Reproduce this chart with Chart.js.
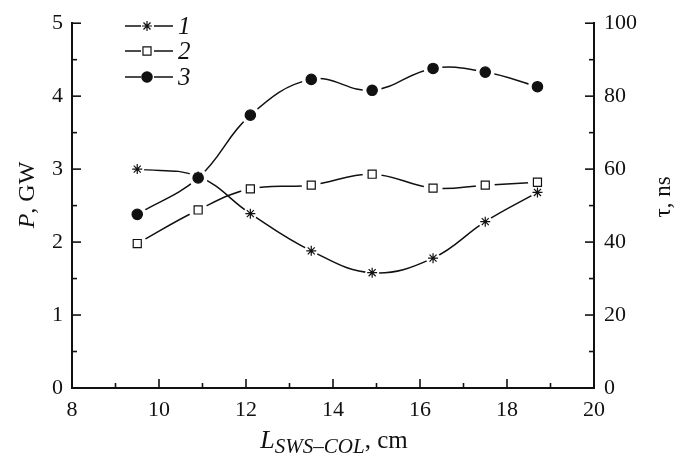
<!DOCTYPE html>
<html>
<head>
<meta charset="utf-8">
<script src="https://cdn.jsdelivr.net/npm/chart.js@4.4.1/dist/chart.umd.min.js"></script>
<style>
  html, body { margin: 0; padding: 0; background: #fff; }
  #c { display: block; }
</style>
</head>
<body>
<canvas id="c" width="677" height="462"></canvas>
<script>
// distance L_SWS-COL, cm
const lengthCm = [9.5, 10.9, 12.1, 13.5, 14.9, 16.3, 17.5, 18.7];
// curves, in units of the left axis (P, GW)
const curve1 = [3.0, 2.9, 2.39, 1.88, 1.58, 1.78, 2.28, 2.68];
const curve2 = [1.98, 2.44, 2.73, 2.78, 2.93, 2.74, 2.78, 2.82];
const curve3 = [2.38, 2.88, 3.74, 4.23, 4.08, 4.38, 4.33, 4.13];
const curveNames = ['1', '2', '3'];

const xRange = [8, 20];
const pRange = [0, 5];
const tauRange = [0, 100];

const INK = '#111';
const SERIF = '"Liberation Serif", "Times New Roman", Times, serif';

const markerStyles = [
    { pointStyle: 'star', radius: 5, fill: '#fff', halo: 7 },
    { pointStyle: 'rect', radius: 5.7, fill: '#fff', halo: 9.5 },
    { pointStyle: 'circle', radius: 5.2, fill: INK, halo: 9.5 }
];

const curves = [curve1, curve2, curve3];
const toPoints = vals => lengthCm.map((x, i) => ({ x: x, y: vals[i] }));

const datasets = [];
curves.forEach((vals, k) => {
    const m = markerStyles[k];
    // the curve itself
    datasets.push({
        data: toPoints(vals),
        borderColor: INK,
        borderWidth: 1.5,
        tension: 0.4,
        pointRadius: 0,
        fill: false,
        order: 3
    });
    // white gap round each marker
    datasets.push({
        data: toPoints(vals),
        showLine: false,
        pointStyle: 'circle',
        pointRadius: m.halo,
        pointBackgroundColor: '#fff',
        pointBorderWidth: 0,
        order: 2
    });
    // the marker
    datasets.push({
        data: toPoints(vals),
        showLine: false,
        pointStyle: m.pointStyle,
        pointRadius: m.radius,
        pointBackgroundColor: m.fill,
        pointBorderColor: INK,
        pointBorderWidth: 1.2,
        order: 1
    });
});

function drawMarker(ctx, m, x, y) {
    ctx.fillStyle = m.fill;
    ctx.strokeStyle = INK;
    ctx.lineWidth = 1.2;
    if (Chart.helpers && Chart.helpers.drawPoint) {
        Chart.helpers.drawPoint(ctx, { pointStyle: m.pointStyle, radius: m.radius, rotation: 0, borderWidth: 1.2 }, x, y);
    }
}

// tick marks pointing into the plot
const inwardTicks = {
    id: 'inwardTicks',
    afterDraw(chart) {
        const { ctx, chartArea: a, scales } = chart;
        ctx.save();
        ctx.strokeStyle = INK;
        ctx.lineWidth = 1.6;
        const seg = (x1, y1, x2, y2) => {
            ctx.beginPath();
            ctx.moveTo(x1, y1);
            ctx.lineTo(x2, y2);
            ctx.stroke();
        };
        scales.x.ticks.forEach(t => {
            const px = scales.x.getPixelForValue(t.value);
            seg(px, a.bottom, px, a.bottom - (t.value % 2 === 0 ? 9 : 5));
        });
        scales.y.ticks.forEach(t => {
            const py = scales.y.getPixelForValue(t.value);
            seg(a.left, py, a.left + (Number.isInteger(t.value) ? 9 : 5), py);
        });
        scales.y2.ticks.forEach(t => {
            const py = scales.y2.getPixelForValue(t.value);
            seg(a.right, py, a.right - (t.value % 20 === 0 ? 9 : 5), py);
        });
        ctx.restore();
    }
};

const legendAndTitles = {
    id: 'legendAndTitles',
    afterDraw(chart) {
        const ctx = chart.ctx;
        ctx.save();

        // legend in the upper left corner
        const rows = [26, 51, 77];
        curveNames.forEach((name, k) => {
            const y = rows[k];
            ctx.strokeStyle = INK;
            ctx.lineWidth = 1.5;
            ctx.beginPath();
            ctx.moveTo(125, y);
            ctx.lineTo(141, y);
            ctx.moveTo(154, y);
            ctx.lineTo(173, y);
            ctx.stroke();
            drawMarker(ctx, markerStyles[k], 147, y);
            ctx.fillStyle = INK;
            ctx.font = 'italic 25px ' + SERIF;
            ctx.textBaseline = 'middle';
            ctx.textAlign = 'left';
            ctx.fillText(name, 178, y + 1);
        });

        ctx.fillStyle = INK;
        ctx.textAlign = 'left';

        // left axis title: P, GW
        ctx.save();
        ctx.translate(28, 195);
        ctx.rotate(-Math.PI / 2);
        ctx.textBaseline = 'middle';
        ctx.font = 'italic 24px ' + SERIF;
        const wP = ctx.measureText('P').width;
        ctx.font = '24px ' + SERIF;
        const wRest = ctx.measureText(', GW').width;
        let sx = -(wP + wRest) / 2;
        ctx.font = 'italic 24px ' + SERIF;
        ctx.fillText('P', sx, 0);
        ctx.font = '24px ' + SERIF;
        ctx.fillText(', GW', sx + wP, 0);
        ctx.restore();

        // right axis title: τ, ns
        ctx.save();
        ctx.translate(664, 197);
        ctx.rotate(-Math.PI / 2);
        ctx.textBaseline = 'middle';
        ctx.textAlign = 'center';
        ctx.font = '23px ' + SERIF;
        ctx.fillText('τ, ns', 0, 0);
        ctx.restore();

        // bottom title: L_SWS–COL, cm
        ctx.textBaseline = 'alphabetic';
        ctx.font = 'italic 26px ' + SERIF;
        const wL = ctx.measureText('L').width;
        ctx.font = 'italic 21px ' + SERIF;
        const wSub = ctx.measureText('SWS–COL').width;
        ctx.font = '25px ' + SERIF;
        const wCm = ctx.measureText(', cm').width;
        let bx = 334 - (wL + wSub + wCm) / 2;
        ctx.font = 'italic 26px ' + SERIF;
        ctx.fillText('L', bx, 448);
        ctx.font = 'italic 21px ' + SERIF;
        ctx.fillText('SWS–COL', bx + wL, 453);
        ctx.font = '25px ' + SERIF;
        ctx.fillText(', cm', bx + wL + wSub, 448);

        ctx.restore();
    }
};

const tickFont = { family: SERIF, size: 22 };

function build() {
    new Chart(document.getElementById('c'), {
        type: 'line',
        data: { datasets: datasets },
        options: {
            responsive: false,
            animation: false,
            events: [],
            layout: { padding: { top: 19, right: 0, left: 0, bottom: 0 } },
            plugins: {
                legend: { display: false },
                tooltip: { enabled: false }
            },
            scales: {
                x: {
                    type: 'linear',
                    min: xRange[0],
                    max: xRange[1],
                    grid: { display: false, drawTicks: false },
                    border: { display: true, color: INK, width: 2 },
                    ticks: {
                        stepSize: 1,
                        autoSkip: false,
                        maxRotation: 0,
                        padding: 9,
                        color: INK,
                        font: tickFont,
                        callback: v => (v % 2 === 0 ? String(v) : '')
                    },
                    afterFit(scale) { scale.height = 74; }
                },
                y: {
                    position: 'left',
                    min: pRange[0],
                    max: pRange[1],
                    grid: { display: false, drawTicks: false },
                    border: { display: true, color: INK, width: 2 },
                    ticks: {
                        stepSize: 0.5,
                        autoSkip: false,
                        padding: 9,
                        color: INK,
                        font: tickFont,
                        callback: v => (Number.isInteger(v) ? String(v) : '')
                    },
                    afterFit(scale) { scale.width = 72; }
                },
                y2: {
                    position: 'right',
                    min: tauRange[0],
                    max: tauRange[1],
                    grid: { display: false, drawTicks: false },
                    border: { display: true, color: INK, width: 2 },
                    ticks: {
                        stepSize: 10,
                        autoSkip: false,
                        padding: 10,
                        color: INK,
                        font: tickFont,
                        callback: v => (v % 20 === 0 ? String(v) : '')
                    },
                    afterFit(scale) { scale.width = 83; }
                }
            }
        },
        plugins: [inwardTicks, legendAndTitles]
    });
}

// make sure the serif faces are ready before drawing
if (document.fonts && document.fonts.load) {
    Promise.all([
        document.fonts.load('22px "Liberation Serif"'),
        document.fonts.load('italic 22px "Liberation Serif"')
    ]).then(build, build);
} else {
    build();
}
</script>
</body>
</html>
